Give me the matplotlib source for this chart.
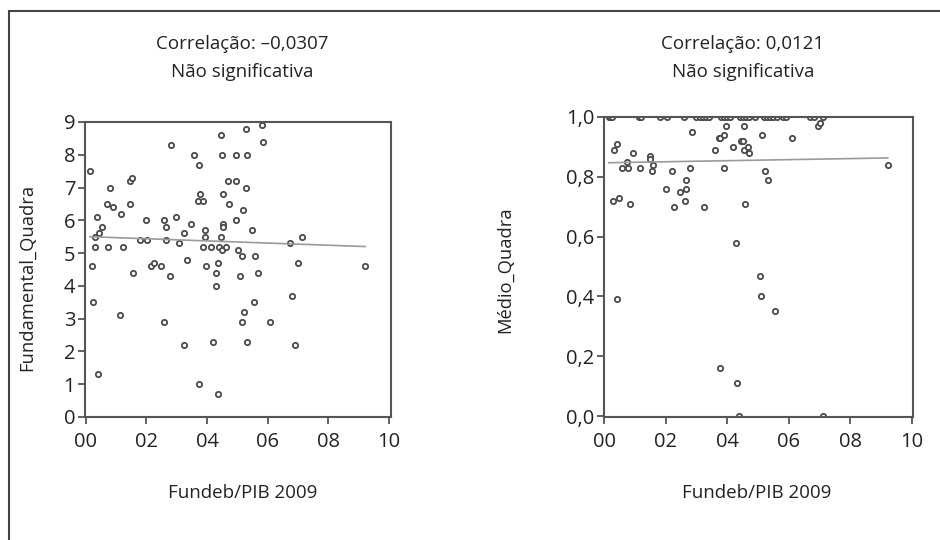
import numpy as np
import matplotlib.pyplot as plt
from matplotlib.patches import Rectangle

plt.rcParams['font.family'] = ['Open Sans', 'DejaVu Sans']

# Fundamental: Fundeb/PIB 2009 x Fundamental_Quadra
fund_x = [0.13, 0.19, 0.22, 0.29, 0.30, 0.38, 0.40, 0.43, 0.54, 0.71, 0.73, 0.80,
          0.90, 1.13, 1.15, 1.21, 1.45, 1.52, 1.45, 1.54, 1.79, 1.97, 2.02, 2.16,
          2.24, 2.47, 2.57, 2.58, 2.64, 2.64, 2.79, 2.82, 2.96, 3.07, 3.23, 3.24,
          3.35, 3.47, 3.57, 3.73, 3.74, 3.76, 3.71, 3.88, 3.87, 3.93, 3.93, 3.97,
          4.14, 4.18, 4.29, 4.30, 4.36, 4.36, 4.41, 4.46, 4.47, 4.49, 4.51, 4.54,
          4.54, 4.49, 4.62, 4.68, 4.71, 4.96, 4.96, 4.97, 5.01, 5.10, 5.14, 5.16,
          5.19, 5.21, 5.27, 5.27, 5.31, 5.31, 5.47, 5.54, 5.57, 5.69, 5.80, 5.84,
          6.09, 6.73, 6.82, 6.89, 7.01, 7.13, 9.22]
fund_y = [7.5, 4.6, 3.5, 5.5, 5.2, 6.1, 1.3, 5.6, 5.8, 6.5, 5.2, 7.0,
          6.4, 3.1, 6.2, 5.2, 7.2, 7.3, 6.5, 4.4, 5.4, 6.0, 5.4, 4.6,
          4.7, 4.6, 6.0, 2.9, 5.8, 5.4, 4.3, 8.3, 6.1, 5.3, 5.6, 2.2,
          4.8, 5.9, 8.0, 7.7, 1.0, 6.8, 6.6, 6.6, 5.2, 5.7, 5.5, 4.6,
          5.2, 2.3, 4.4, 4.0, 4.7, 0.7, 5.2, 5.5, 8.6, 8.0, 5.9, 5.8,
          6.8, 5.1, 5.2, 7.2, 6.5, 8.0, 7.2, 6.0, 5.1, 4.3, 4.9, 2.9,
          6.3, 3.2, 8.8, 7.0, 8.0, 2.3, 5.7, 3.5, 4.9, 4.4, 8.9, 8.4,
          2.9, 5.3, 3.7, 2.2, 4.7, 5.5, 4.6]
# reta de ajuste (valor no inicio e no fim)
fund_ajuste = [5.5, 5.2]

# Médio: Fundeb/PIB 2009 x Médio_Quadra
medio_x = [0.15, 0.20, 0.25, 1.15, 1.20, 1.82, 2.05, 2.58, 3.00, 3.10, 3.20, 3.30,
           3.40, 3.80, 3.90, 4.00, 4.10, 4.40, 4.50, 4.60, 4.70, 4.90, 5.20, 5.30,
           5.40, 5.50, 5.60, 5.80, 5.90, 6.70, 6.80, 7.10,
           0.33, 0.42, 0.30, 0.47, 0.42, 0.59, 0.74, 0.77, 0.85, 0.94, 1.18, 1.48,
           1.48, 1.55, 1.58, 2.02, 2.20, 2.28, 2.47, 2.63, 2.67, 2.67, 2.80, 2.87,
           3.26, 3.61, 3.72, 3.77, 3.75, 3.88, 3.88, 3.95, 4.20, 4.29, 4.30, 4.37,
           4.44, 4.51, 4.55, 4.55, 4.58, 4.66, 4.69, 5.06, 5.10, 5.14, 5.21, 5.32,
           5.56, 6.09, 6.93, 7.00, 7.10, 9.21]
medio_y = [1.0] * 32 + [
           0.89, 0.91, 0.72, 0.73, 0.39, 0.83, 0.85, 0.83, 0.71, 0.88, 0.83, 0.87,
           0.86, 0.82, 0.84, 0.76, 0.82, 0.70, 0.75, 0.72, 0.76, 0.79, 0.83, 0.95,
           0.70, 0.89, 0.93, 0.93, 0.16, 0.94, 0.83, 0.97, 0.90, 0.58, 0.11, 0.0,
           0.92, 0.92, 0.97, 0.89, 0.71, 0.90, 0.88, 0.47, 0.40, 0.94, 0.82, 0.79,
           0.35, 0.93, 0.97, 0.98, 0.0, 0.84]
medio_ajuste = [0.847, 0.863]

x_ticks = [0, 2, 4, 6, 8, 10]
x_tick_labels = ['00', '02', '04', '06', '08', '10']
fund_yticks = list(range(10))
medio_yticks = [0.0, 0.2, 0.4, 0.6, 0.8, 1.0]
medio_ytick_labels = ['0,0', '0,2', '0,4', '0,6', '0,8', '1,0']

correlacoes = ['Correlação: \u20130,0307', 'Correlação: 0,0121']
significancia = 'Não significativa'
x_label = 'Fundeb/PIB 2009'
y_labels = ['Fundamental_Quadra', 'Médio_Quadra']

texto = '#222222'
eixo = '#555555'

fig = plt.figure(figsize=(9.4, 5.4), dpi=100)
fig.patches.append(Rectangle((9 / 940, -0.05), 1.1, 1 - 11 / 540 + 0.05,
                             transform=fig.transFigure, fill=False,
                             edgecolor='#444444', linewidth=1.5))

ax1 = fig.add_axes([0.0904, 0.2278, 0.3255, 0.5463])
ax2 = fig.add_axes([0.6426, 0.2278, 0.3287, 0.5556])


def desenhar(ax, xs, ys, ajuste, xlim, ylim, yticks, ylabels):
    xs = np.array(xs)
    ys = np.array(ys)
    ax.plot(xs, ys, 'o', ms=3.8, mfc='white', mec='#4a4a4a', mew=1.3,
            zorder=1)
    ax.plot([xs.min(), xs.max()], ajuste, color='#9a9a9a', lw=1.2, zorder=2)
    ax.set_xlim(*xlim)
    ax.set_ylim(*ylim)
    ax.set_xticks(x_ticks)
    ax.set_xticklabels(x_tick_labels)
    ax.set_yticks(yticks)
    ax.set_yticklabels(ylabels)
    ax.tick_params(direction='out', length=5, width=1.3, color=eixo,
                   labelsize=14.5, labelcolor=texto, pad=2)
    ax.tick_params(axis='x', pad=6)
    for s in ax.spines.values():
        s.set_color(eixo)
        s.set_linewidth(1.5)


desenhar(ax1, fund_x, fund_y, fund_ajuste, (-0.03, 10.07), (0, 9),
         fund_yticks, [str(v) for v in fund_yticks])
desenhar(ax2, medio_x, medio_y, medio_ajuste, (0, 10.03), (-0.003, 1.0),
         medio_yticks, medio_ytick_labels)

# titulos, rotulos dos eixos
for cx, corr in zip([242, 743], correlacoes):
    fig.text(cx / 940, 1 - 44 / 540, corr, ha='center', va='center',
             fontsize=13.5, color=texto)
    fig.text(cx / 940, 1 - 72 / 540, significancia, ha='center', va='center',
             fontsize=13.5, color=texto)
for cx in [243, 757]:
    fig.text(cx / 940, 1 - 493 / 540, x_label, ha='center', va='center',
             fontsize=13.5, color=texto)
fig.text(27 / 940, 1 - 277 / 540, y_labels[0], ha='center', va='center',
         rotation=90, fontsize=13.2, color=texto)
fig.text(505 / 940, 1 - 270 / 540, y_labels[1], ha='center', va='center',
         rotation=90, fontsize=13.2, color=texto)

fig.savefig('out.png', dpi=100)
